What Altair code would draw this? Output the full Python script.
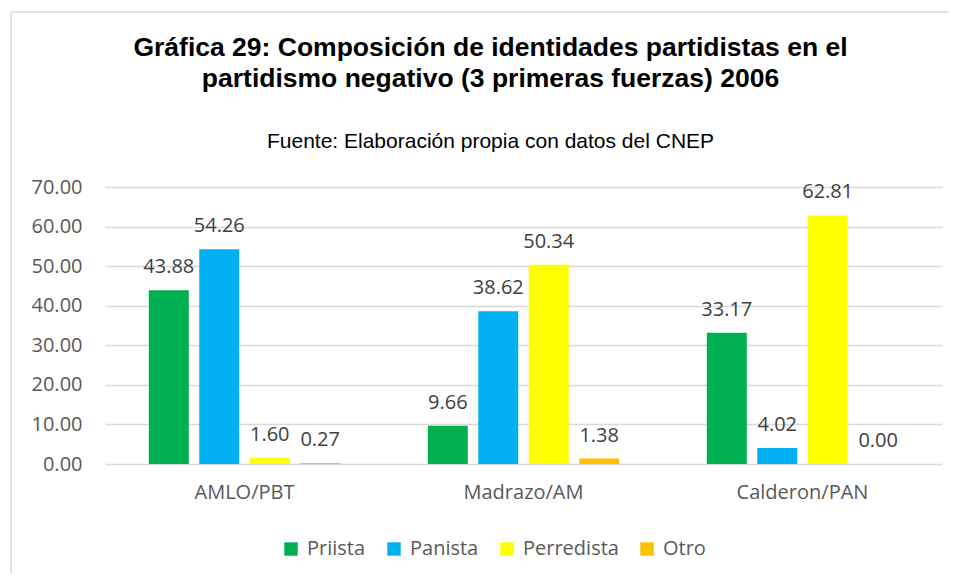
import altair as alt
import pandas as pd

categories = ["AMLO/PBT", "Madrazo/AM", "Calderon/PAN"]
series = ["Priista", "Panista", "Perredista", "Otro"]
priista = [43.88, 9.66, 33.17]
panista = [54.26, 38.62, 4.02]
perredista = [1.60, 50.34, 62.81]
otro = [0.27, 1.38, 0.00]
colors = ["#00B050", "#00B0F0", "#FFFF00", "#FFC000"]
y_ticks = [0, 10, 20, 30, 40, 50, 60, 70]

rows = []
for name, vals in zip(series, [priista, panista, perredista, otro]):
    for cat, v in zip(categories, vals):
        rows.append({"cat": cat, "serie": name, "valor": v})
df = pd.DataFrame(rows)

axis_font = "Open Sans"

x = alt.X("cat:N", sort=categories, title=None,
          scale=alt.Scale(paddingInner=0.314, paddingOuter=0.157),
          axis=alt.Axis(labelAngle=0, labelFont=axis_font, labelFontSize=20,
                        labelColor="#595959", domain=False, ticks=False,
                        labelPadding=18, grid=False))
xoff = alt.XOffset("serie:N", sort=series,
                   scale=alt.Scale(paddingInner=0.208, paddingOuter=0))
y = alt.Y("valor:Q", title=None,
          scale=alt.Scale(domain=[0, 70], nice=False),
          axis=alt.Axis(values=y_ticks, format=".2f", labelFont=axis_font,
                        labelFontSize=20, labelColor="#595959", domain=False,
                        ticks=False, tickSize=0, labelPadding=23,
                        labelOverlap=False, labelBound=False,
                        gridColor="#D9D9D9", gridWidth=1.5))
color = alt.Color("serie:N", sort=series,
                  scale=alt.Scale(domain=series, range=colors),
                  legend=alt.Legend(title=None, orient="none", direction="horizontal",
                                    legendX=176, legendY=352, symbolType="square",
                                    symbolSize=180, symbolStrokeWidth=0,
                                    labelFont=axis_font, labelFontSize=20,
                                    labelColor="#595959", columnPadding=18,
                                    labelOffset=6, padding=0))

base = alt.Chart(df)
bars = base.mark_bar().encode(x=x, xOffset=xoff, y=y, color=color)
labels = base.mark_text(baseline="alphabetic", dy=-17, font=axis_font,
                        fontSize=20, color="#404040").encode(
    x=x, xOffset=xoff, y=y, text=alt.Text("valor:Q", format=".2f"))

frame_left = alt.Chart(pd.DataFrame({"k": [0]})).mark_rule(
    color="#D9D9D9", strokeWidth=1.5).encode(
    x=alt.value(-94), y=alt.value(-175), y2=alt.value(420))
frame_top = alt.Chart(pd.DataFrame({"k": [0]})).mark_rule(
    color="#D9D9D9", strokeWidth=1.5).encode(
    x=alt.value(-94), x2=alt.value(900), y=alt.value(-175))

chart = alt.layer(frame_left, frame_top, bars, labels).properties(
    width=837, height=277,
    padding={"left": 97, "top": 179, "right": 6, "bottom": 110},
    autosize=alt.AutoSizeParams(type="none"),
    title=alt.TitleParams(
        text=["Gráfica 29: Composición de identidades partidistas en el",
              "partidismo negativo (3 primeras fuerzas) 2006"],
        subtitle="Fuente: Elaboración propia con datos del CNEP",
        anchor="middle", frame="group", dx=-33, font="Liberation Sans", fontSize=26.5,
        fontWeight="bold", color="#000000", lineHeight=31,
        subtitleFont="Liberation Sans", subtitleFontSize=21,
        subtitleColor="#000000", subtitlePadding=39, offset=-141),
).configure_view(strokeWidth=0)

chart.save("out.html", embed_options={"renderer": "svg", "actions": False})
